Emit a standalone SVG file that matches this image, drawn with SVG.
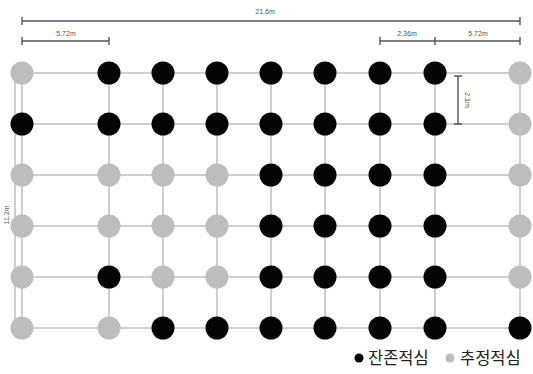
<svg xmlns="http://www.w3.org/2000/svg" width="533" height="374" viewBox="0 0 533 374">
<style>
.grid{stroke:#cfcfcf;stroke-width:2;fill:none}
.dim{stroke:#555;stroke-width:1.4;fill:none}
.b{fill:#050505}
.g{fill:#bdbdbd}
.dt{font-family:"Liberation Sans",Arial,sans-serif;font-size:7px;fill:#555}
.lg{font-family:"Noto Sans CJK KR","Noto Sans",sans-serif;font-size:16.5px;fill:#222}
</style>
<rect width="533" height="374" fill="#fff"/>
<g id="connectors">
<path class="grid" d="M22 73H520M22 124H520M22 175H520M22 226H520M22 277H520M22 328H520"/>
<path class="grid" d="M22 73V328M109 73V328M163 73V328M217 73V328M271 73V328M325 73V328M380 73V328M435 73V328M520 73V328"/>
<path class="grid" d="M15 73V328"/>
</g>
<g id="dimensions">
<path class="dim" d="M22 21H520M22 17V25M520 17V25"/>
<text class="dt" x="265" y="14" text-anchor="middle">21.6m</text>
<path class="dim" d="M22 41H109M22 37V45M109 37V45"/>
<text class="dt" x="66" y="36" text-anchor="middle">5.72m</text>
<path class="dim" d="M380 41H520M380 37V45M435 37V45M520 37V45"/>
<text class="dt" x="407" y="36" text-anchor="middle">2.36m</text>
<text class="dt" x="478" y="36" text-anchor="middle">5.72m</text>
<path class="dim" d="M458 76V124M454 76H462M454 124H462"/>
<text class="dt" x="0" y="0" text-anchor="middle" transform="translate(465 100) rotate(90)">2.1m</text>
<text class="dt" x="0" y="0" text-anchor="middle" transform="translate(9 215) rotate(-90)">11.2m</text>
</g>
<g id="row1">
<circle class="g" cx="22" cy="73" r="11.5"/><circle class="b" cx="109" cy="73" r="11.5"/><circle class="b" cx="163" cy="73" r="11.5"/><circle class="b" cx="217" cy="73" r="11.5"/><circle class="b" cx="271" cy="73" r="11.5"/><circle class="b" cx="325" cy="73" r="11.5"/><circle class="b" cx="380" cy="73" r="11.5"/><circle class="b" cx="435" cy="73" r="11.5"/><circle class="g" cx="520" cy="73" r="11.5"/>
</g>
<g id="row2">
<circle class="b" cx="22" cy="124" r="11.5"/><circle class="b" cx="109" cy="124" r="11.5"/><circle class="b" cx="163" cy="124" r="11.5"/><circle class="b" cx="217" cy="124" r="11.5"/><circle class="b" cx="271" cy="124" r="11.5"/><circle class="b" cx="325" cy="124" r="11.5"/><circle class="b" cx="380" cy="124" r="11.5"/><circle class="b" cx="435" cy="124" r="11.5"/><circle class="g" cx="520" cy="124" r="11.5"/>
</g>
<g id="row3">
<circle class="g" cx="22" cy="175" r="11.5"/><circle class="g" cx="109" cy="175" r="11.5"/><circle class="g" cx="163" cy="175" r="11.5"/><circle class="g" cx="217" cy="175" r="11.5"/><circle class="b" cx="271" cy="175" r="11.5"/><circle class="b" cx="325" cy="175" r="11.5"/><circle class="b" cx="380" cy="175" r="11.5"/><circle class="b" cx="435" cy="175" r="11.5"/><circle class="g" cx="520" cy="175" r="11.5"/>
</g>
<g id="row4">
<circle class="g" cx="22" cy="226" r="11.5"/><circle class="g" cx="109" cy="226" r="11.5"/><circle class="g" cx="163" cy="226" r="11.5"/><circle class="g" cx="217" cy="226" r="11.5"/><circle class="b" cx="271" cy="226" r="11.5"/><circle class="b" cx="325" cy="226" r="11.5"/><circle class="b" cx="380" cy="226" r="11.5"/><circle class="b" cx="435" cy="226" r="11.5"/><circle class="g" cx="520" cy="226" r="11.5"/>
</g>
<g id="row5">
<circle class="g" cx="22" cy="277" r="11.5"/><circle class="b" cx="109" cy="277" r="11.5"/><circle class="g" cx="163" cy="277" r="11.5"/><circle class="g" cx="217" cy="277" r="11.5"/><circle class="b" cx="271" cy="277" r="11.5"/><circle class="b" cx="325" cy="277" r="11.5"/><circle class="b" cx="380" cy="277" r="11.5"/><circle class="b" cx="435" cy="277" r="11.5"/><circle class="g" cx="520" cy="277" r="11.5"/>
</g>
<g id="row6">
<circle class="g" cx="22" cy="328" r="11.5"/><circle class="g" cx="109" cy="328" r="11.5"/><circle class="b" cx="163" cy="328" r="11.5"/><circle class="b" cx="217" cy="328" r="11.5"/><circle class="b" cx="271" cy="328" r="11.5"/><circle class="b" cx="325" cy="328" r="11.5"/><circle class="b" cx="380" cy="328" r="11.5"/><circle class="b" cx="435" cy="328" r="11.5"/><circle class="b" cx="520" cy="328" r="11.5"/>
</g>
<g id="legend">
<circle class="b" cx="359" cy="358" r="4.5"/>
<text class="lg" x="368" y="364">잔존적심</text>
<circle class="g" cx="450" cy="358" r="4.5"/>
<text class="lg" x="460" y="364">추정적심</text>
</g>
</svg>
